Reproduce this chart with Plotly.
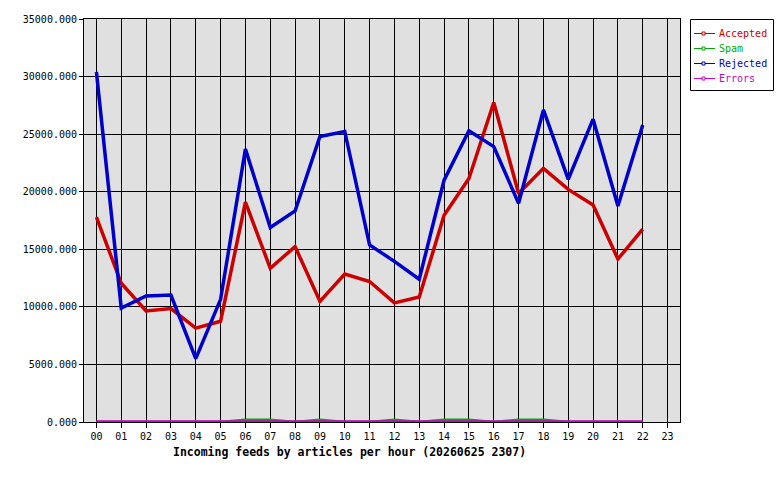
import plotly.graph_objects as go

hours = ["00","01","02","03","04","05","06","07","08","09","10","11","12","13","14","15","16","17","18","19","20","21","22","23"]

accepted = [17800, 12050, 9650, 9850, 8150, 8750, 19100, 13350, 15230, 10480, 12850, 12200, 10350, 10850,
            17950, 21150, 27750, 19850, 22030, 20200, 18850, 14150, 16750]
spam = [0, 0, 0, 0, 0, 0, 200, 200, 0, 200, 0, 0, 200, 0, 200, 200, 0, 200, 200, 0, 0, 0, 0]
rejected = [30400, 9900, 10940, 11030, 5500, 10650, 23700, 16900, 18330, 24790, 25230, 15380, 13950, 12400,
            21000, 25300, 23920, 18990, 27100, 21070, 26300, 18760, 25800]
errors = [0] * 23

series = [
    ("Accepted", accepted, "#cc0000", 3.5),
    ("Spam", spam, "#00aa00", 2.5),
    ("Rejected", rejected, "#0000cc", 3.5),
    ("Errors", errors, "#cc00cc", 3.5),
]

L, R, T, B = 84, 680, 19, 422
W, H = R - L, B - T

def px(x):
    return (x - L) / W

def py(y):
    return (B - y) / H

fig = go.Figure()
for name, vals, col, w in series:
    fig.add_trace(go.Scatter(x=list(range(len(vals))), y=vals, mode="lines",
                             line=dict(color=col, width=w), showlegend=False,
                             name=name, hoverinfo="skip"))

font_family = "DejaVu Sans Mono"

shapes = [dict(type="rect", xref="paper", yref="paper",
               x0=px(690.5), x1=px(773.5), y0=py(90.5), y1=py(19.5),
               line=dict(color="black", width=1), fillcolor="white", layer="above")]
annotations = []
leg_y = [33.5, 48.5, 63.5, 78.5]
for (name, vals, col, w), yy in zip(series, leg_y):
    shapes.append(dict(type="line", xref="paper", yref="paper",
                       x0=px(694), x1=px(715), y0=py(yy), y1=py(yy),
                       line=dict(color=col, width=1), layer="above"))
    shapes.append(dict(type="rect", xref="paper", yref="paper",
                       x0=px(702), x1=px(705), y0=py(yy + 1.5), y1=py(yy - 1.5),
                       line=dict(color=col, width=1), fillcolor="white", layer="above"))
    annotations.append(dict(text=name, x=px(717), y=py(yy), xref="paper", yref="paper",
                            xanchor="left", yanchor="middle", showarrow=False,
                            font=dict(family=font_family, size=10, color=col)))

annotations.append(dict(text="<b>Incoming feeds by articles per hour (20260625 2307)</b>",
                        x=px(349), y=py(452), xref="paper", yref="paper",
                        xanchor="center", yanchor="middle", showarrow=False,
                        font=dict(family=font_family, size=11.5, color="black")))

yt = [0, 5000, 10000, 15000, 20000, 25000, 30000, 35000]

fig.update_layout(
    width=780, height=480,
    margin=dict(l=L, r=780 - R, t=T, b=480 - B, autoexpand=False),
    paper_bgcolor="white",
    plot_bgcolor="#e0e0e0",
    font=dict(family=font_family, size=10, color="black"),
    showlegend=False,
    xaxis=dict(range=[-0.5, 23.5], tickmode="array",
               tickvals=list(range(24)), ticktext=hours,
               showgrid=True, gridcolor="black", gridwidth=1,
               zeroline=False, showline=True, linecolor="black", linewidth=1,
               mirror=True, ticks="outside", ticklen=5, tickcolor="black",
               tickfont=dict(family=font_family, size=10)),
    yaxis=dict(range=[0, 35000], tickmode="array",
               tickvals=yt, ticktext=[f"{v:.3f}" for v in yt],
               showgrid=True, gridcolor="black", gridwidth=1,
               zeroline=False, showline=True, linecolor="black", linewidth=1,
               mirror=True, ticks="outside", ticklen=4, tickcolor="black",
               tickfont=dict(family=font_family, size=10)),
    shapes=shapes,
    annotations=annotations,
)

fig.write_html("out.html")
